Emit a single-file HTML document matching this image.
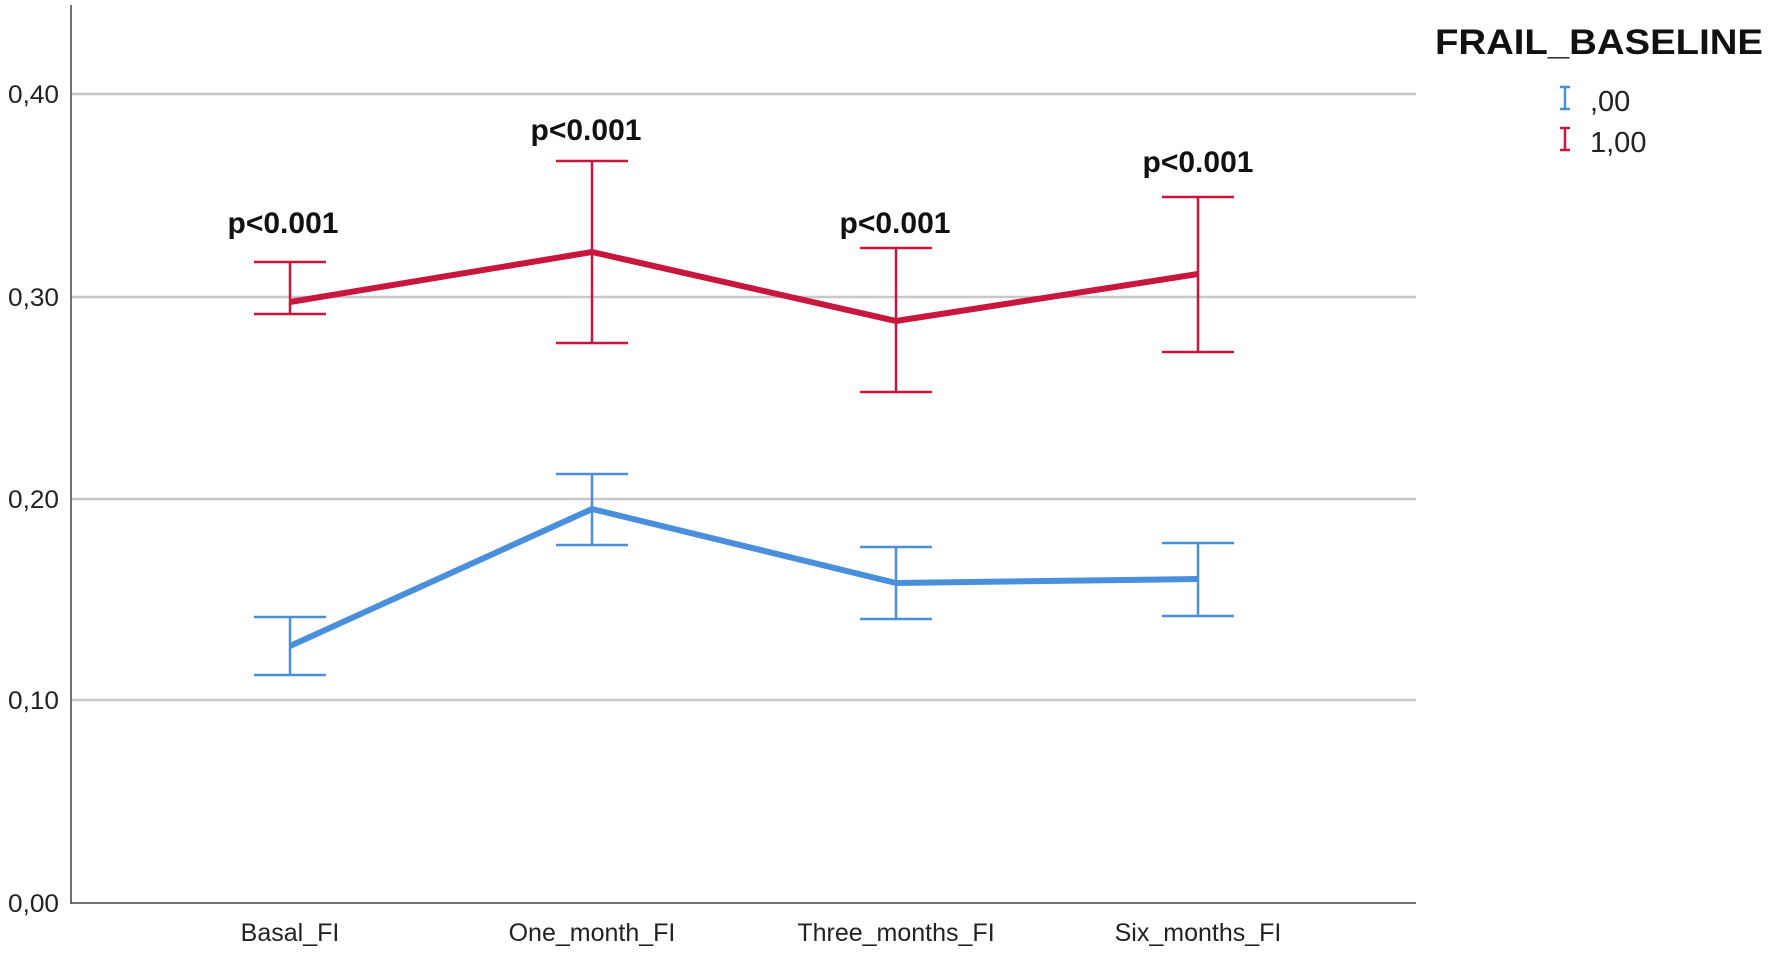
<!DOCTYPE html>
<html><head><meta charset="utf-8"><style>
html,body{margin:0;padding:0;background:#fff;}
svg{display:block;}
</style></head><body>
<svg width="1772" height="955" viewBox="0 0 1772 955" xmlns="http://www.w3.org/2000/svg">
<g stroke="#c8c8c8" stroke-width="2.5">
<line x1="71" y1="94" x2="1416" y2="94"/>
<line x1="71" y1="297" x2="1416" y2="297"/>
<line x1="71" y1="499" x2="1416" y2="499"/>
<line x1="71" y1="700" x2="1416" y2="700"/>
</g>
<line x1="71" y1="5" x2="71" y2="904" stroke="#444" stroke-width="1.5"/>
<line x1="71" y1="903" x2="1416" y2="903" stroke="#444" stroke-width="1.5"/>
<g font-family="Liberation Sans, sans-serif" font-size="25" fill="#222">
<text x="8" y="103" textLength="51" lengthAdjust="spacingAndGlyphs">0,40</text>
<text x="8" y="306" textLength="51" lengthAdjust="spacingAndGlyphs">0,30</text>
<text x="8" y="508" textLength="51" lengthAdjust="spacingAndGlyphs">0,20</text>
<text x="8" y="709" textLength="51" lengthAdjust="spacingAndGlyphs">0,10</text>
<text x="8" y="912" textLength="51" lengthAdjust="spacingAndGlyphs">0,00</text>
</g>
<g font-family="Liberation Sans, sans-serif" font-size="25" fill="#222" text-anchor="middle">
<text x="290" y="941">Basal_FI</text>
<text x="592" y="941">One_month_FI</text>
<text x="896" y="941">Three_months_FI</text>
<text x="1198" y="941">Six_months_FI</text>
</g>
<g stroke="#c8173f" stroke-width="2.5" fill="none">
<path d="M290 262V314M254 262H326M254 314H326"/>
<path d="M592 161V343M556 161H628M556 343H628"/>
<path d="M896 248V392M860 248H932M860 392H932"/>
<path d="M1198 197V352M1162 197H1234M1162 352H1234"/>
</g>
<polyline points="290,302 592,252 896,321 1198,274" fill="none" stroke="#c8173f" stroke-width="6" stroke-linejoin="round"/>
<g stroke="#4a8fdb" stroke-width="2.5" fill="none">
<path d="M290 617V675M254 617H326M254 675H326"/>
<path d="M592 474V545M556 474H628M556 545H628"/>
<path d="M896 547V619M860 547H932M860 619H932"/>
<path d="M1198 543V616M1162 543H1234M1162 616H1234"/>
</g>
<polyline points="290,646 592,509 896,583 1198,579" fill="none" stroke="#4a8fdb" stroke-width="6" stroke-linejoin="round"/>
<g font-family="Liberation Sans, sans-serif" font-size="30" font-weight="bold" fill="#111" text-anchor="middle">
<text x="283" y="233">p&lt;0.001</text>
<text x="586" y="140">p&lt;0.001</text>
<text x="895" y="233">p&lt;0.001</text>
<text x="1198" y="172">p&lt;0.001</text>
</g>
<text x="1435" y="54" font-family="Liberation Sans, sans-serif" font-size="35" font-weight="bold" fill="#111" textLength="328" lengthAdjust="spacingAndGlyphs">FRAIL_BASELINE</text>
<g stroke-width="2.5" fill="none">
<path d="M1565 87V109M1560 87H1570M1560 109H1570" stroke="#4a8fdb"/>
<path d="M1565 128V150M1560 128H1570M1560 150H1570" stroke="#c8173f"/>
</g>
<g font-family="Liberation Sans, sans-serif" font-size="29" fill="#222">
<text x="1590" y="111">,00</text>
<text x="1590" y="152">1,00</text>
</g>
</svg>
</body></html>
